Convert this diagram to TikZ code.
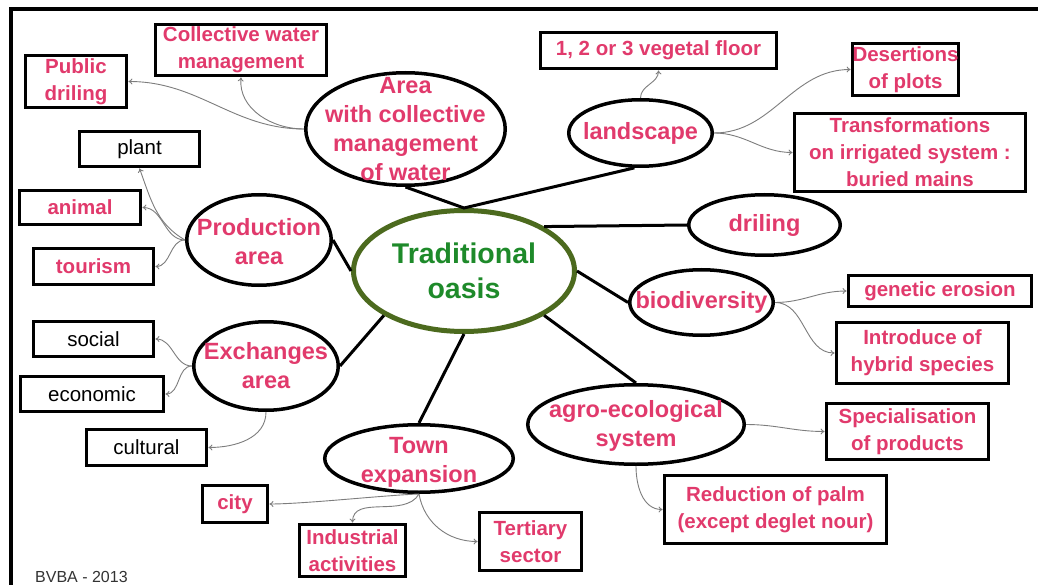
\documentclass[tikz,border=0pt]{standalone}
\usepackage{fontspec}
\setmainfont{Liberation Sans}
\usetikzlibrary{shapes.geometric,arrows.meta}
\definecolor{pinkx}{RGB}{225,58,108}
\definecolor{greentext}{RGB}{30,138,42}
\definecolor{greenline}{RGB}{76,106,30}
\definecolor{arrgray}{RGB}{125,125,125}
\newcommand\boxfont{\fontsize{20.5}{27}\selectfont\bfseries}
\newcommand\plainfont{\fontsize{20.5}{25}\selectfont}
\newcommand\ovalfont{\fontsize{23.5}{29}\selectfont\bfseries}
\tikzset{
  box/.style={draw, line width=3.8pt, rectangle, inner sep=0pt, align=center, font=\boxfont, text=pinkx},
  plainbox/.style={box, font=\plainfont, text=black},
  oval/.style={draw, ellipse, line width=3.5pt, inner sep=0pt},
  etext/.style={font=\ovalfont, text=pinkx, align=center, inner sep=0pt},
  link/.style={line width=3pt},
  arr/.style={draw=arrgray, line width=0.9pt, -{To[length=4pt,width=6pt]}}
}
\begin{document}
\begin{tikzpicture}[x=1pt,y=-1pt]
\useasboundingbox (0,0) rectangle (1038,585);
\fill[white] (0,0) rectangle (1038,585);
% frame (top and left)
\draw[line width=4pt] (10.5,585) -- (10.5,9.5) -- (1038,9.5);

% ellipses
\node[oval, draw=greenline, line width=5pt, minimum width=221pt, minimum height=121pt,
      label={[etext, font=\fontsize{28.5}{35}\selectfont\bfseries, text=greentext]center:{Traditional\\oasis}}] (oasis) at (464,271) {};
\node[oval, minimum width=199.5pt, minimum height=112.5pt,
      label={[etext]center:{Area\\with collective\\management\\of water}}] (area) at (405.5,129) {};
\node[oval, minimum width=143.5pt, minimum height=66.5pt,
      label={[etext]center:{landscape}}] (land) at (640.5,133) {};
\node[oval, minimum width=151.5pt, minimum height=60.5pt,
      label={[etext]center:{driling}}] (dril) at (764.5,225) {};
\node[oval, minimum width=143.5pt, minimum height=65.5pt,
      label={[etext]center:{biodiversity}}] (bio) at (701.5,302.5) {};
\node[oval, minimum width=216.5pt, minimum height=79.5pt,
      label={[etext, yshift=-1.5pt]center:{agro-ecological\\system}}] (agro) at (636,424.5) {};
\node[oval, minimum width=188.5pt, minimum height=67.5pt,
      label={[etext, yshift=-4pt]center:{Town\\expansion}}] (town) at (419,458.5) {};
\node[oval, minimum width=144.5pt, minimum height=88.5pt,
      label={[etext]center:{Exchanges\\area}}] (exch) at (266,366) {};
\node[oval, minimum width=144.5pt, minimum height=90.5pt,
      label={[etext, yshift=-1.5pt]center:{Production\\area}}] (prod) at (259,240) {};

% boxes
\node[box, minimum width=171pt, minimum height=51pt] (coll) at (241,50) {Collective water\\management};
\node[box, minimum width=101pt, minimum height=52pt] (pub) at (76,81.5) {Public\\driling};
\node[plainbox, minimum width=120pt, minimum height=35pt] (plant) at (139.5,149) {plant};
\node[box, minimum width=121pt, minimum height=34pt] (animal) at (80,207.5) {animal};
\node[box, minimum width=120pt, minimum height=36pt] (tour) at (93.5,266.5) {tourism};
\node[plainbox, minimum width=120pt, minimum height=35pt] (social) at (93.5,339) {social};
\node[plainbox, minimum width=143pt, minimum height=35pt] (econ) at (92,394) {economic};
\node[plainbox, minimum width=120pt, minimum height=36pt] (cult) at (146.5,447.5) {cultural};
\node[box, minimum width=65pt, minimum height=37pt] (city) at (235,504) {city};
\node[box, minimum width=106pt, minimum height=52pt] (ind) at (352.5,550.5) {Industrial\\activities};
\node[box, minimum width=102pt, minimum height=58pt] (tert) at (530.5,541.5) {Tertiary\\sector};
\node[box, minimum width=222pt, minimum height=68pt] (red) at (775.5,509.5) {Reduction of palm\\(except deglet nour)};
\node[box, minimum width=162pt, minimum height=56pt] (spec) at (907.5,431.5) {Specialisation\\of products};
\node[box, minimum width=172pt, minimum height=61pt] (intro) at (922.5,353) {Introduce of\\hybrid species};
\node[box, minimum width=183pt, minimum height=31pt] (gen) at (940,291) {genetic erosion};
\node[box, minimum width=231pt, minimum height=78pt] (trans) at (910,152.5) {Transformations\\on irrigated system :\\buried mains};
\node[box, minimum width=104pt, minimum height=52pt] (des) at (905.5,69.5) {Desertions\\of plots};
\node[box, minimum width=236pt, minimum height=36pt] (vf) at (658.5,50.5) {1, 2 or 3 vegetal floor};

% thick links
\draw[link] (area.south) -- (oasis.north) -- (land.-100);
\draw[link] (oasis.29) -- (dril.west);
\draw[link] (oasis.east) -- (bio.west);
\draw[link] (oasis.-29) -- (agro.north);
\draw[link] (oasis.south) -- (town.north);
\draw[link] (oasis.-151) -- (exch.east);
\draw[link] (oasis.west) -- (prod.east);

% thin arrows
\draw[arr] (area.west) to[out=180,in=0] (pub.east);
\draw[arr] (area.west) to[out=180,in=-95] (coll.south);
\draw[arr] (land.north) to[out=90,in=-90] (vf.south);
\draw[arr] (land.east) to[out=0,in=180] (des.west);
\draw[arr] (land.east) to[out=0,in=180] (trans.west);
\draw[arr] (prod.west) to[out=150,in=-70] (plant.south);
\draw[arr] (prod.west) to[out=180,in=0] (animal.east);
\draw[arr] (prod.west) to[out=180,in=0] (tour.east);
\draw[arr] (exch.west) to[out=180,in=0] (social.east);
\draw[arr] (exch.west) to[out=180,in=0] (econ.east);
\draw[arr] (exch.south) to[out=-90,in=0] (cult.east);
\draw[arr] (town.south) to[out=182,in=0,looseness=0.6] (city.east);
\draw[arr] (town.south) to[out=-120,in=90] (ind.north);
\draw[arr] (town.south) to[out=-80,in=180] (tert.west);
\draw[arr] (agro.east) to[out=0,in=180] (spec.west);
\draw[arr] (agro.south) to[out=-90,in=180] (red.west);
\draw[arr] (bio.east) to[out=0,in=180] (gen.west);
\draw[arr] (bio.east) to[out=0,in=180] (intro.west);

% credit
\node[anchor=base west, inner sep=0pt, font=\fontsize{16}{18}\selectfont, text=black!80] (credit) at (35,582) {BVBA - 2013};
\end{tikzpicture}
\end{document}
